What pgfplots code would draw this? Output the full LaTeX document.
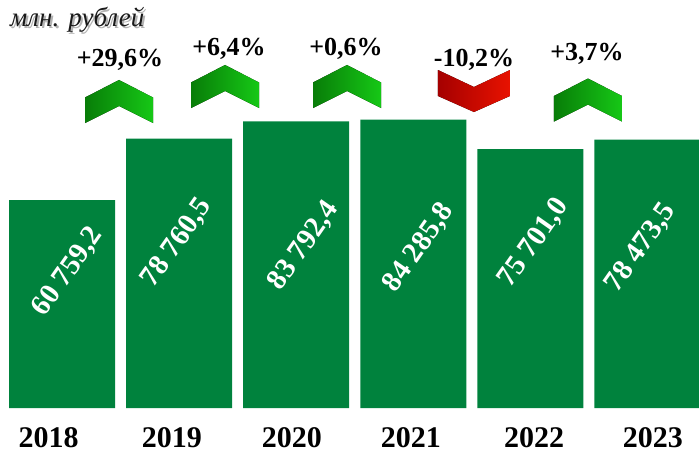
\documentclass[border=0pt]{standalone}
\usepackage{pgfplots}
\pgfplotsset{compat=1.18}
\usepackage{fontspec}
\setmainfont{Liberation Serif}

\definecolor{barg}{RGB}{0,130,61}
\definecolor{gL}{RGB}{8,125,8}
\definecolor{gR}{RGB}{22,200,22}
\definecolor{rL}{RGB}{165,0,0}
\definecolor{rR}{RGB}{232,18,0}

% chevrons for the change labels
\pgfdeclareplotmark{chevup}{%
  \fill[left color=gL, right color=gR, draw=none]
    (-34bp,4bp) -- (0bp,21.5bp) -- (34bp,4bp) -- (34bp,-21.5bp)
    -- (0bp,-4.5bp) -- (-34bp,-21.5bp) -- cycle;}
\pgfdeclareplotmark{chevdown}{%
  \fill[left color=rL, right color=rR, draw=none]
    (-36bp,21bp) -- (0bp,4bp) -- (36bp,21bp) -- (36bp,-5bp)
    -- (0bp,-21bp) -- (-36bp,-5bp) -- cycle;}

\begin{document}
\begin{tikzpicture}
\begin{axis}[
    scale only axis,
    width=699bp, height=454bp,
    hide axis,
    xmin=-0.5295, xmax=5.44,
    ymin=-13450, ymax=119300,
]
% bars
\addplot[ybar, bar width=106bp, fill=barg, draw=none] coordinates {
    (0,60759.2) (1,78760.5) (2,83792.4) (3,84285.8) (4,75701.0) (5,78473.5)};
% change arrows
\addplot[only marks, mark=chevup] coordinates {
    (0.487,89620) (1.392,94006) (2.434,94006) (4.492,90058)};
\addplot[only marks, mark=chevdown] coordinates {(3.518,92690)};

% value labels
\begin{scope}[every node/.style={font=\fontsize{29bp}{30bp}\selectfont\bfseries, text=white, rotate=55, anchor=center, inner sep=0pt}]
\node at (axis cs:0.051,39766) {60 759,2};
\node at (axis cs:0.982,48246) {78 760,5};
\node at (axis cs:2.067,47368) {83 792,4};
\node at (axis cs:3.049,46784) {84 285,8};
\node at (axis cs:4.031,48246) {75 701,0};
\node at (axis cs:4.944,46784) {78 473,5};
\end{scope}

% change percentages
\begin{scope}[every node/.style={font=\fontsize{26bp}{28bp}\selectfont\bfseries, anchor=base, inner sep=0pt}]
\node at (axis cs:0.495,99708) {+29,6\%};
\node at (axis cs:1.426,103216) {+6,4\%};
\node at (axis cs:2.425,103216) {+0,6\%};
\node at (axis cs:3.518,99708) {-10,2\%};
\node at (axis cs:4.483,101754) {+3,7\%};
\end{scope}

% years
\begin{scope}[every node/.style={font=\fontsize{30bp}{32bp}\selectfont\bfseries, anchor=base, inner sep=0pt}]
\node at (axis cs:-0.115,-11404) {2018};
\node at (axis cs:0.939,-11404) {2019};
\node at (axis cs:1.964,-11404) {2020};
\node at (axis cs:2.980,-11404) {2021};
\node at (axis cs:4.031,-11404) {2022};
\node at (axis cs:5.047,-11404) {2023};
\end{scope}

% unit
\node[font=\fontsize{27bp}{29bp}\selectfont\itshape, text=black!30, anchor=base west, inner sep=0pt]
    at ([xshift=2bp,yshift=-2bp]axis cs:-0.444,111404) {млн. рублей};
\node[font=\fontsize{27bp}{29bp}\selectfont\itshape, text=black!90, anchor=base west, inner sep=0pt]
    at (axis cs:-0.444,111404) {млн. рублей};

\coordinate (bl) at (rel axis cs:0,0);
\coordinate (tr) at (rel axis cs:1,1);
\end{axis}
\pgfresetboundingbox
\path (bl) rectangle (tr);
\end{tikzpicture}
\end{document}
